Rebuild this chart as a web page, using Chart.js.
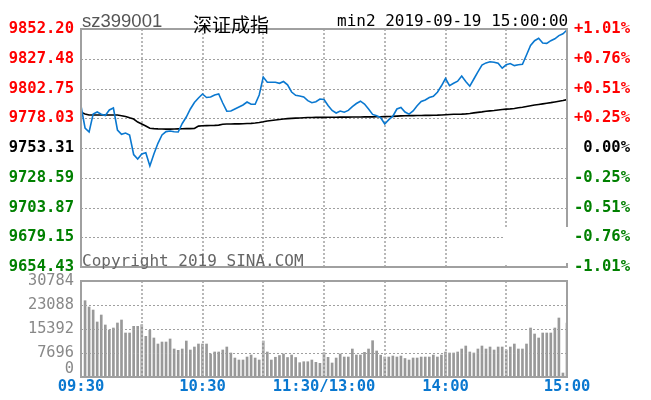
<!DOCTYPE html>
<html>
<head>
<meta charset="utf-8">
<script src="https://cdn.jsdelivr.net/npm/chart.js@4.4.0/dist/chart.umd.min.js"></script>
<style>
  body { margin: 0; background: #fff; }
  #wrap { position: relative; width: 651px; height: 400px; overflow: hidden; }
  canvas { position: absolute; left: 0; }
  #price { top: 0; }
  #vol { top: 266px; }
  .txt { position: absolute; white-space: nowrap; line-height: 1; }
  #code { left: 82px; top: 10px; font: 18.5px "Liberation Sans"; color: #555; }
  #name { left: 193px; top: 10px; font: 19px "Noto Sans CJK SC"; color: #000; }
  #stamp { left: 337px; top: 11px; font: 16px "DejaVu Sans Mono"; color: #000; }
  #copy { left: 82px; top: 251px; font: 16px "DejaVu Sans Mono"; color: #666; }
</style>
</head>
<body>
<div id="wrap">
  <canvas id="price" width="651" height="282"></canvas>
  <canvas id="vol" width="651" height="134"></canvas>
  <div class="txt" id="code">sz399001</div>
  <div class="txt" id="name">深证成指</div>
  <div class="txt" id="stamp">min2 2019-09-19 15:00:00</div>
  <div class="txt" id="copy">Copyright 2019 SINA.COM</div>
</div>
<script>
const prevClose = 9753.31;
const priceTicks = [9654.43, 9679.15, 9703.87, 9728.59, 9753.31, 9778.03, 9802.75, 9827.48, 9852.20];
const pctTicks = ['-1.01%', '-0.76%', '-0.51%', '-0.25%', '0.00%', '+0.25%', '+0.51%', '+0.76%', '+1.01%'];
const volTicks = [0, 7696, 15392, 23088, 30784];
const timeTicks = ['09:30', '10:30', '11:30/13:00', '14:00', '15:00'];
const timeTickIndex = [0, 30, 60, 90, 120];

// 2-minute closes, 09:30 .. 15:00
const price = [
  9788.22, 9769.93, 9766.61, 9781.57, 9783.23, 9781.32, 9780.32, 9784.89, 9786.55, 9768.27,
  9764.70, 9765.78, 9764.12, 9747.91, 9744.17, 9748.33, 9749.33, 9738.36, 9748.33, 9757.22,
  9764.12, 9766.94, 9767.44, 9766.78, 9766.61, 9773.67, 9779.07, 9785.72, 9791.12, 9794.86,
  9798.19, 9795.28, 9795.69, 9797.36, 9798.19, 9790.71, 9783.89, 9784.06, 9785.72, 9787.38,
  9789.05, 9791.54, 9789.63, 9789.63, 9797.36, 9812.31, 9807.91, 9807.91, 9807.91, 9807.08,
  9808.57, 9805.83, 9799.85, 9797.11, 9796.52, 9795.69, 9792.70, 9790.96, 9791.79, 9794.03,
  9793.62, 9788.63, 9784.48, 9782.40, 9784.06, 9783.06, 9784.56, 9787.72, 9790.29, 9792.20,
  9789.88, 9785.72, 9781.23, 9780.15, 9778.49, 9773.26, 9776.83, 9779.74, 9785.72, 9786.97,
  9783.23, 9781.48, 9784.06, 9788.38, 9791.95, 9793.20, 9795.28, 9796.27, 9799.68, 9805.00,
  9811.07, 9805.17, 9807.08, 9808.82, 9813.14, 9808.66, 9804.67, 9810.65, 9816.63, 9822.28,
  9824.03, 9825.03, 9824.53, 9823.70, 9819.63, 9822.45, 9823.53, 9821.79, 9822.53, 9822.87,
  9830.59, 9838.49, 9842.48, 9844.47, 9840.57, 9840.23, 9842.48, 9844.06, 9846.72, 9848.21,
  9851.37
];

// average price (black line)
const avgPrice = [
  9783.0, 9781.6, 9780.7, 9780.7, 9780.7, 9780.7, 9780.7, 9780.7, 9780.7, 9780.7,
  9780.1, 9779.5, 9778.4, 9777.4, 9774.9, 9773.3, 9771.6, 9769.7, 9769.4, 9769.2,
  9769.1, 9769.0, 9769.0, 9769.1, 9769.2, 9769.3, 9769.4, 9769.4, 9769.5, 9771.5,
  9771.8, 9771.9, 9772.0, 9772.1, 9772.3, 9773.0, 9773.2, 9773.3, 9773.4, 9773.4,
  9773.5, 9773.7, 9773.8, 9774.1, 9774.5, 9775.1, 9775.8, 9776.2, 9776.6, 9777.0,
  9777.4, 9777.7, 9777.9, 9778.1, 9778.2, 9778.4, 9778.6, 9778.7, 9778.8, 9778.8,
  9778.8, 9778.9, 9778.9, 9778.9, 9779.0, 9779.0, 9779.0, 9779.1, 9779.1, 9779.1,
  9779.2, 9779.2, 9779.2, 9779.3, 9779.3, 9779.4, 9779.5, 9779.6, 9779.8, 9780.0,
  9780.1, 9780.2, 9780.2, 9780.3, 9780.3, 9780.4, 9780.4, 9780.5, 9780.6, 9780.8,
  9781.0, 9781.2, 9781.3, 9781.4, 9781.5, 9781.7, 9782.0, 9782.5, 9782.9, 9783.3,
  9783.8, 9784.2, 9784.5, 9784.9, 9785.3, 9785.6, 9785.8, 9786.2, 9786.7, 9787.2,
  9787.8, 9788.4, 9789.0, 9789.5, 9790.0, 9790.5, 9791.0, 9791.6, 9792.2, 9792.8,
  9793.5
];

const volume = [
  0, 24470, 22450, 21480, 17640, 19880, 16680, 15070, 15710, 17320,
  18280, 14110, 14110, 16250, 16250, 16780, 13040, 14970, 12510, 10580,
  11220, 11220, 12190, 8980, 8550, 8980, 11540, 8660, 9620, 10580,
  10580, 10580, 7380, 8020, 8020, 8660, 9620, 7700, 6090, 5450,
  5450, 6410, 7050, 6090, 5450, 11540, 8020, 5450, 6330, 6890,
  7380, 6250, 7050, 6250, 4590, 4900, 4900, 5450, 4710, 4390,
  7790, 6300, 4490, 6090, 7380, 6410, 6410, 8980, 7050, 7050,
  7920, 8980, 11640, 8340, 7000, 6410, 6410, 6730, 6410, 6730,
  5930, 5450, 6090, 6090, 6410, 6410, 6410, 7050, 6410, 7050,
  8020, 7700, 7700, 8020, 8980, 9940, 8020, 7700, 8980, 9940,
  8980, 9620, 8660, 9620, 9620, 8660, 9620, 10580, 8980, 8980,
  10580, 15710, 13790, 12510, 14110, 14110, 14110, 15710, 18920, 1280,
  17320
];

const slots = price.map((_, i) => i);

const GRID = '#a0a0a0';
const FRAME = '#a0a0a0';
const monoBold = { family: 'DejaVu Sans Mono', size: 15.5, weight: 'bold', lineHeight: 1 };
const vGrid = ctx => (ctx.index % 15 === 0 ? '#b8b8b8' : 'rgba(0,0,0,0)');
const priceColor = ctx => {
  const v = ctx.tick.value;
  if (Math.abs(v - prevClose) < 0.001) return '#000';
  return v > prevClose ? '#ff0000' : '#008000';
};

// dotted horizontal grid at the y scale's ticks
const hLines = chart => {
  const { ctx, chartArea: a } = chart;
  const s = chart.scales.y;
  ctx.save();
  ctx.strokeStyle = GRID;
  ctx.lineWidth = 1;
  ctx.setLineDash([2, 2]);
  s.ticks.forEach(t => {
    const y = Math.round(s.getPixelForValue(t.value)) + 0.5;
    ctx.beginPath();
    ctx.moveTo(a.left, y);
    ctx.lineTo(a.right, y);
    ctx.stroke();
  });
  ctx.restore();
};
const gridUnder = { id: 'gridUnder', beforeDatasetsDraw: hLines };
const gridOver = { id: 'gridOver', afterDatasetsDraw: hLines };

const frame = {
  id: 'frame',
  afterDraw(chart) {
    const { ctx, chartArea: a } = chart;
    ctx.save();
    ctx.strokeStyle = FRAME;
    ctx.lineWidth = 2;
    ctx.strokeRect(a.left, a.top, a.right - a.left, a.bottom - a.top);
    ctx.restore();
  }
};

// blank patch in the lower right corner of the price panel
const patch = {
  id: 'patch',
  afterDraw(chart) {
    const { ctx, chartArea: a } = chart;
    ctx.save();
    ctx.fillStyle = '#fff';
    ctx.fillRect(a.right - 62, a.bottom - 40, 66, 36);
    ctx.restore();
  }
};

new Chart(document.getElementById('price'), {
  type: 'line',
  data: {
    labels: slots,
    datasets: [
      { data: price, borderColor: '#0a78d0', borderWidth: 1.6, pointRadius: 0, tension: 0, yAxisID: 'y' },
      { data: avgPrice, borderColor: '#000', borderWidth: 1.6, pointRadius: 0, tension: 0, yAxisID: 'y' }
    ]
  },
  options: {
    responsive: false,
    animation: false,
    devicePixelRatio: 1,
    events: [],
    layout: { padding: { top: 29, bottom: 15, left: 0, right: 21 } },
    plugins: { legend: { display: false }, tooltip: { enabled: false } },
    scales: {
      x: {
        type: 'category',
        offset: false,
        grid: { color: vGrid, lineWidth: 2, drawTicks: false, offset: false },
        border: { display: false, dash: [2, 2] },
        ticks: { display: false },
        afterFit: s => { s.height = 0; }
      },
      y: {
        position: 'left',
        min: priceTicks[0],
        max: priceTicks[priceTicks.length - 1],
        afterBuildTicks: s => { s.ticks = priceTicks.map(v => ({ value: v })); },
        grid: { drawOnChartArea: false, drawTicks: false },
        border: { display: false },
        ticks: { autoSkip: false, callback: v => v.toFixed(2), color: priceColor, font: monoBold, padding: 7 },
        afterFit: s => { s.width = 81; }
      },
      y2: {
        position: 'right',
        min: priceTicks[0],
        max: priceTicks[priceTicks.length - 1],
        afterBuildTicks: s => { s.ticks = priceTicks.map(v => ({ value: v })); },
        grid: { drawOnChartArea: false, drawTicks: false },
        border: { display: false },
        ticks: {
          autoSkip: false,
          callback: v => pctTicks[priceTicks.indexOf(v)],
          color: priceColor, font: monoBold, crossAlign: 'far', padding: 5
        },
        afterFit: s => { s.width = 63; }
      }
    }
  },
  plugins: [gridUnder, frame, patch]
});

new Chart(document.getElementById('vol'), {
  type: 'bar',
  data: {
    labels: slots,
    datasets: [
      { data: volume, backgroundColor: '#999', barThickness: 2 }
    ]
  },
  options: {
    responsive: false,
    animation: false,
    devicePixelRatio: 1,
    events: [],
    layout: { padding: { top: 15, bottom: 0, left: 0, right: 84 } },
    plugins: { legend: { display: false }, tooltip: { enabled: false } },
    scales: {
      x: {
        type: 'category',
        offset: false,
        grid: { color: vGrid, lineWidth: 2, drawTicks: false, offset: false, z: 1 },
        border: { display: false, dash: [2, 2] },
        ticks: {
          autoSkip: false, maxRotation: 0, minRotation: 0, padding: 2,
          color: '#0a78d0', font: monoBold,
          callback: (v, i) => {
            const k = timeTickIndex.indexOf(i);
            return k >= 0 ? timeTicks[k] : '';
          }
        },
        afterFit: s => { s.height = 23; }
      },
      y: {
        min: volTicks[0],
        max: volTicks[volTicks.length - 1],
        afterBuildTicks: s => { s.ticks = volTicks.map(v => ({ value: v })); },
        grid: { drawOnChartArea: false, drawTicks: false },
        border: { display: false },
        ticks: {
          autoSkip: false,
          callback: v => (v === 0 ? ['0', ''] : String(v)),
          color: '#888', font: { family: 'DejaVu Sans Mono', size: 15.3, lineHeight: 1 }, padding: 7
        },
        afterFit: s => { s.width = 81; }
      }
    }
  },
  plugins: [gridOver, frame]
});
</script>
</body>
</html>
